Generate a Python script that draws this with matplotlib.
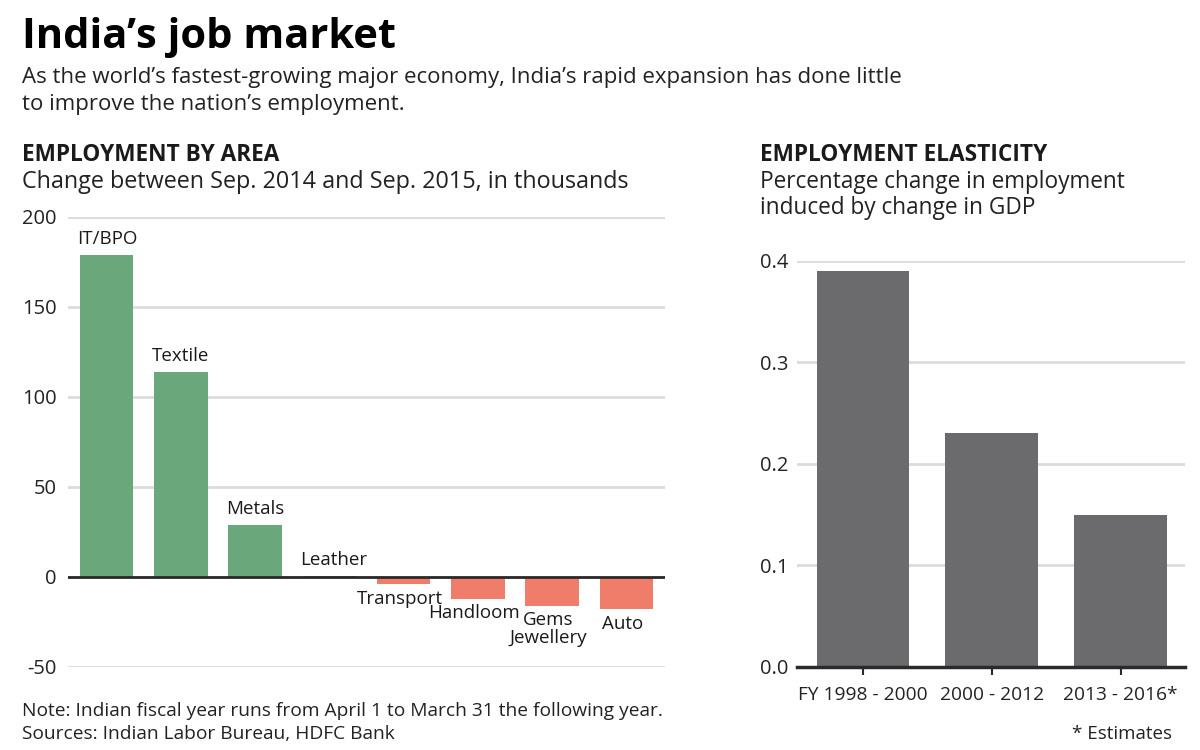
import matplotlib
matplotlib.use("Agg")
from matplotlib import pyplot as plt

plt.rcParams['font.family'] = ['Open Sans', 'DejaVu Sans']

# Employment by area (change Sep 2014 - Sep 2015, thousands)
areas = ["IT/BPO", "Textile", "Metals", "Leather", "Transport", "Handloom", "Gems\nJewellery", "Auto"]
area_change = [179, 114, 29, 0.5, -4, -12, -16, -18]
area_ticks = [-50, 0, 50, 100, 150, 200]

# Employment elasticity
periods = ["FY 1998 - 2000", "2000 - 2012", "2013 - 2016*"]
elasticity = [0.39, 0.23, 0.15]
elast_ticks = [0.0, 0.1, 0.2, 0.3, 0.4]

GREEN = '#6aa87c'
RED = '#f07d6a'
GRAY = '#6b6b6e'
GRID = '#dcdcdc'
TXT = '#1a1a1a'

fig = plt.figure(figsize=(12, 7.5), dpi=100)

# titles
fig.text(0.018, 0.936, "India’s job market", fontsize=30, fontweight='bold', color='black', va='baseline')
fig.text(0.018, 0.889, "As the world’s fastest-growing major economy, India’s rapid expansion has done little",
         fontsize=16, color='#222222', va='baseline')
fig.text(0.018, 0.853, "to improve the nation’s employment.", fontsize=16, color='#222222', va='baseline')

fig.text(0.018, 0.785, "EMPLOYMENT BY AREA", fontsize=16.3, fontweight='bold', color=TXT, va='baseline')
fig.text(0.018, 0.749, "Change between Sep. 2014 and Sep. 2015, in thousands", fontsize=16.8, color='#222222', va='baseline')

fig.text(0.633, 0.785, "EMPLOYMENT ELASTICITY", fontsize=16.3, fontweight='bold', color=TXT, va='baseline')
fig.text(0.633, 0.750, "Percentage change in employment", fontsize=16.3, color='#222222', va='baseline')
fig.text(0.633, 0.714, "induced by change in GDP", fontsize=16.3, color='#222222', va='baseline')

fig.text(0.018, 0.045, "Note: Indian fiscal year runs from April 1 to March 31 the following year.",
         fontsize=13.8, color='#222222', va='baseline')
fig.text(0.018, 0.015, "Sources: Indian Labor Bureau, HDFC Bank", fontsize=13.8, color='#222222', va='baseline')
fig.text(0.977, 0.015, "* Estimates", fontsize=13.5, color='#222222', va='baseline', ha='right')

# left chart
ax1 = fig.add_axes([0.0567, 0.1107, 0.4975, 0.6])
x1 = list(range(len(areas)))
cols = [GREEN if v >= 0 else RED for v in area_change]
ax1.bar(x1, area_change, width=0.72, color=cols, zorder=2)
ax1.set_xlim(-0.52, 7.52)
ax1.set_ylim(-50, 200)
ax1.set_yticks(area_ticks)
ax1.set_yticklabels([str(t) for t in area_ticks])
ax1.yaxis.grid(True, color=GRID, linewidth=2, zorder=0)
ax1.axhline(0, color='#2a2a2a', linewidth=2, zorder=3)
ax1.set_xticks([])
ax1.tick_params(axis='y', length=0, pad=8, labelsize=14.5, labelcolor='#222222')
for s in ax1.spines.values():
    s.set_visible(False)

for i, (name, v) in enumerate(zip(areas, area_change)):
    if v >= 0:
        ax1.annotate(name, (i - 0.36, v), xytext=(-2, 5), textcoords='offset points',
                     ha='left', va='bottom', fontsize=13.5, color=TXT)
    else:
        ax1.annotate(name, (i, v), xytext=(-3, -4), textcoords='offset points',
                     ha='center', va='top', fontsize=13.5, color=TXT, linespacing=1.0)

# right chart
ax2 = fig.add_axes([0.664, 0.111, 0.3235, 0.5413])
x2 = list(range(len(periods)))
ax2.bar(x2, elasticity, width=0.72, color=GRAY, zorder=2)
ax2.set_xlim(-0.514, 2.50)
ax2.set_ylim(0, 0.4)
ax2.set_yticks(elast_ticks)
ax2.set_yticklabels([f"{t:.1f}" for t in elast_ticks])
ax2.yaxis.grid(True, color=GRID, linewidth=2, zorder=0)
ax2.axhline(0, color='#2a2a2a', linewidth=2.5, zorder=3, clip_on=False)
ax2.set_xticks(x2)
ax2.set_xticklabels(periods)
ax2.tick_params(axis='y', length=0, pad=6, labelsize=14.5, labelcolor='#222222')
ax2.tick_params(axis='x', length=6, width=1.5, color='#2a2a2a', pad=8, labelsize=13.8, labelcolor='#222222')
for s in ax2.spines.values():
    s.set_visible(False)

fig.savefig("out.png", dpi=100, facecolor='white')
